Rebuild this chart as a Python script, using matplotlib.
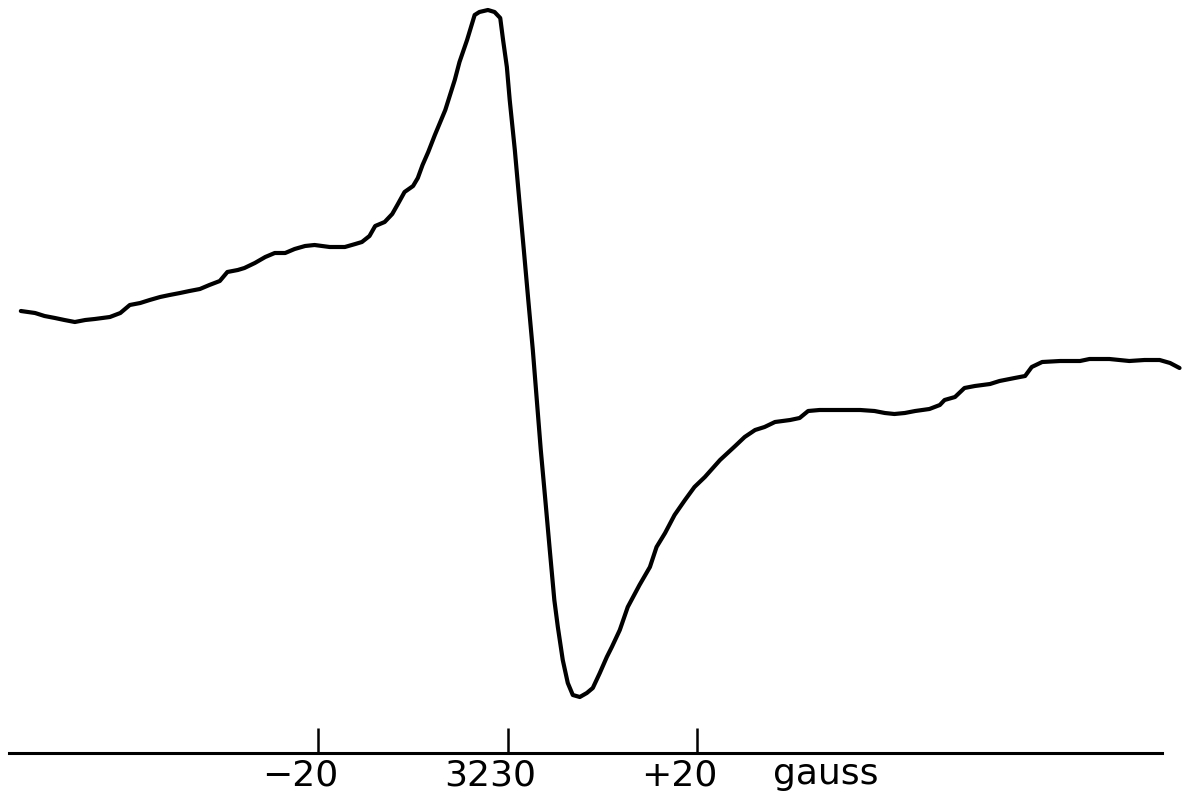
import matplotlib
matplotlib.use("Agg")
import matplotlib.pyplot as plt
import matplotlib.transforms as mtransforms

# Field offset from 3230 gauss (G) and signal (arbitrary units)
field = [-51.4, -49.9, -48.9, -47.8, -46.8, -45.7, -44.6, -43.6, -42.0, -40.9,
         -39.9, -38.8, -37.8, -36.7, -35.7, -34.6, -33.6, -32.5, -31.5, -30.4,
         -29.6, -28.5, -27.8, -26.7, -25.6, -24.6, -23.5, -22.5, -21.4, -20.4,
         -18.8, -17.2, -16.1, -15.4, -14.6, -14.0, -13.0, -12.2, -11.6, -10.9,
         -10.0, -9.5, -9.0, -8.4, -7.7, -6.6, -5.6, -5.1, -4.3, -3.5,
         -3.0, -2.1, -1.4, -0.8, -0.5, -0.1, 0.2, 0.74, 1.21, 1.69,
         2.16, 2.64, 3.06, 3.48, 3.96, 4.43, 4.91, 5.28, 5.80, 6.33,
         6.86, 7.60, 8.34, 8.97, 9.71, 10.45, 10.98, 11.82, 12.66, 13.9,
         15.0, 15.7, 16.6, 17.6, 18.7, 19.7, 20.8, 22.4, 24.0, 25.0,
         26.1, 27.1, 28.2, 29.8, 30.8, 31.7, 32.9, 35.0, 37.2, 38.7,
         39.8, 40.8, 41.9, 43.0, 44.5, 45.6, 46.1, 47.2, 48.2, 49.3,
         50.9, 51.9, 53.5, 54.6, 55.3, 56.4, 58.3, 60.4, 61.4, 63.5,
         65.6, 67.2, 68.8, 69.9, 70.9]
signal = [44, 42, 39, 37, 35, 33, 35, 36, 38, 42,
          50, 52, 55, 58, 60, 62, 64, 66, 70, 74,
          83, 85, 87, 92, 98, 102, 102, 106, 109, 110,
          108, 108, 111, 113, 119, 129, 133, 141, 151, 163,
          169, 177, 190, 203, 220, 245, 275, 293, 315, 340,
          343, 345, 343, 337, 315, 288, 255, 205, 155, 105,
          55, 5, -45, -95, -145, -195, -245, -272, -305, -328,
          -340, -342, -338, -333, -318, -302, -292, -275, -252, -230,
          -212, -192, -178, -160, -145, -132, -122, -105, -91, -82,
          -75, -72, -67, -65, -63, -56, -55, -55, -55, -56,
          -58, -59, -58, -56, -54, -50, -45, -42, -33, -31,
          -29, -26, -23, -21, -12, -7, -6, -6, -4, -4,
          -6, -5, -5, -8, -13]

tick_pos = [-20, 0, 20]
tick_labels = ["\u221220", "3230", "+20"]
unit_label = "gauss"

fig = plt.figure(figsize=(11.89, 8.10), dpi=100)
ax = fig.add_axes([0, 0, 1, 1])
ax.plot(field, signal, color="black", lw=3.0, solid_capstyle="round",
        solid_joinstyle="round")

ax.set_xlim(-53.6, 71.9)
ax.set_ylim(-455, 355)

for s in ["top", "left", "right"]:
    ax.spines[s].set_visible(False)
ax.spines["bottom"].set_position(("data", -398))
ax.spines["bottom"].set_bounds(-52.6, 69.1)
ax.spines["bottom"].set_linewidth(2.2)
ax.set_yticks([])
ax.set_xticks(tick_pos)
ax.set_xticklabels(tick_labels, fontsize=26)
ax.tick_params(axis="x", direction="in", length=18, width=1.8, pad=4)
offset = mtransforms.ScaledTranslation(-18 / 100, 0, fig.dpi_scale_trans)
for lbl in ax.get_xticklabels():
    lbl.set_transform(lbl.get_transform() + offset)

ax.text(33.6, -402, unit_label, fontsize=26, ha="center", va="top",
        transform=ax.transData)
ax.patch.set_alpha(0)
fig.savefig("out.png", dpi=100, facecolor="white")
